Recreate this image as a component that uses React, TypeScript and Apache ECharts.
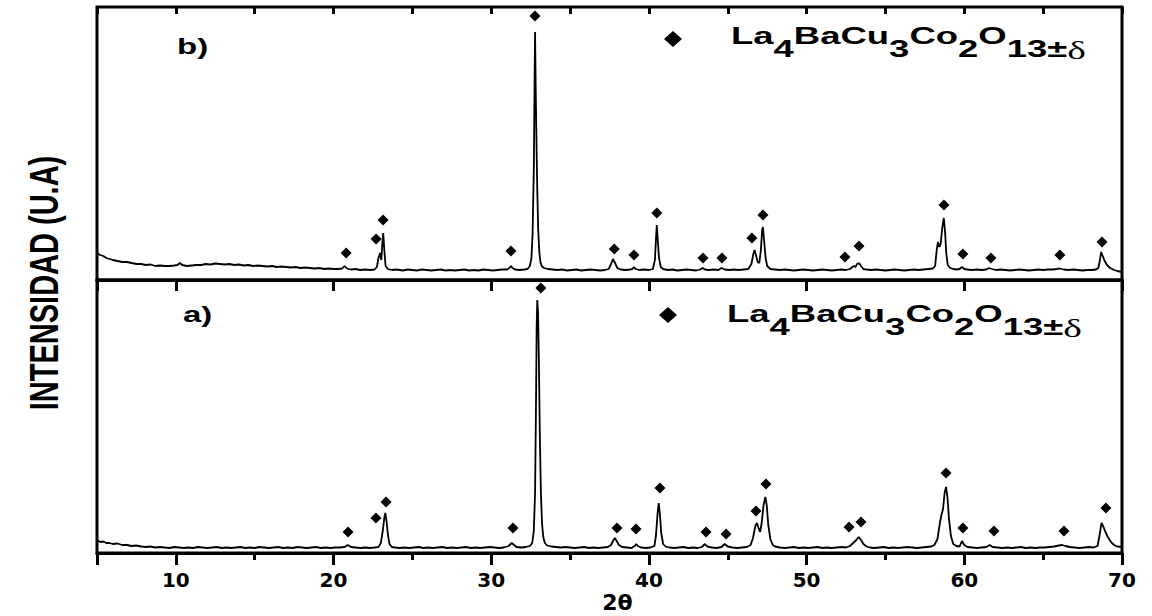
import React, { useEffect, useRef } from "react";
import * as echarts from "echarts";

// ---------- data ----------
const X_MIN = 5;
const X_MAX = 70;
const X_MAJOR_TICKS = [10, 20, 30, 40, 50, 60, 70];
const X_MINOR_STEP = 5;
const Y_MIN = 0;
const Y_MAX = 273;

const X_TITLE = "2θ";
const Y_TITLE = "INTENSIDAD (U.A)";
const PANEL_LABELS = ["b)", "a)"];
const PHASE_NAME = "La4BaCu3Co2O13±δ";

// pattern b) (upper panel): [2θ, intensity]
const patternB: [number, number][] = [
  [5.0, 27], [5.2, 25], [5.4, 24], [5.6, 22], [5.8, 21], [6.0, 20], [6.3, 19], [6.6, 18], [6.9, 18],
  [7.2, 17], [7.5, 16], [7.8, 16], [8.1, 15], [8.4, 15.5], [8.7, 14], [9.0, 14.5], [9.3, 14], [9.6, 14],
  [9.9, 14.5], [10.1, 15], [10.25, 17], [10.4, 15], [10.7, 14], [11.0, 14.5], [11.3, 15], [11.6, 15],
  [11.9, 16], [12.2, 15.5], [12.5, 16.5], [12.8, 16], [13.1, 15.5], [13.4, 16], [13.7, 15], [14.0, 15.5],
  [14.3, 14.5], [14.6, 15], [14.9, 14], [15.2, 14.5], [15.5, 14], [15.8, 13.5], [16.1, 14], [16.4, 13],
  [16.7, 13.5], [17.0, 13], [17.3, 12.5], [17.6, 13], [17.9, 12], [18.2, 12.5], [18.5, 12], [18.8, 11.5],
  [19.1, 12], [19.4, 11], [19.7, 11.5], [20.0, 11], [20.3, 11], [20.55, 11.5], [20.7, 14], [20.85, 11.5],
  [21.1, 10.5], [21.4, 11], [21.7, 10], [22.0, 10.5], [22.3, 10], [22.6, 10.5], [22.75, 13], [22.85, 22],
  [22.95, 27], [23.03, 20], [23.1, 38], [23.15, 47], [23.22, 30], [23.3, 14], [23.45, 11], [23.7, 10],
  [24.0, 10.5], [24.4, 9.5], [24.7, 10.5], [25.0, 10], [25.3, 9.5], [25.6, 10.5], [25.9, 10], [26.2, 9.5],
  [26.5, 10], [26.8, 10.5], [27.1, 9.5], [27.4, 10], [27.7, 9.5], [28.0, 10], [28.3, 10.5], [28.6, 9.5],
  [28.9, 10], [29.2, 9.5], [29.5, 10.5], [29.8, 10], [30.1, 9.5], [30.4, 10], [30.7, 10.5], [31.0, 10.5],
  [31.15, 12], [31.25, 14], [31.35, 12], [31.5, 10.5], [31.8, 10], [32.1, 10.5], [32.3, 11], [32.45, 14],
  [32.55, 22], [32.62, 45], [32.7, 110], [32.75, 200], [32.78, 248], [32.82, 192], [32.86, 147],
  [32.92, 90], [32.98, 50], [33.05, 28], [33.12, 18], [33.2, 14], [33.35, 12], [33.6, 11], [33.9, 10.5],
  [34.2, 10], [34.5, 10.5], [34.8, 9.5], [35.1, 10], [35.4, 10.5], [35.7, 9.5], [36.0, 10], [36.3, 10.5],
  [36.6, 10], [36.9, 9.5], [37.2, 10], [37.45, 11], [37.6, 16], [37.72, 21], [37.85, 17], [38.0, 12],
  [38.2, 10.5], [38.5, 10], [38.8, 10.5], [38.95, 11], [39.05, 13], [39.15, 11], [39.4, 10], [39.7, 10.5],
  [40.0, 10], [40.25, 11], [40.38, 20], [40.45, 42], [40.5, 55], [40.56, 40], [40.64, 22], [40.75, 13],
  [40.9, 11], [41.2, 10], [41.5, 10.5], [41.8, 9.5], [42.1, 10], [42.4, 10.5], [42.7, 10], [43.0, 9.5],
  [43.25, 10.5], [43.4, 12], [43.55, 10.5], [43.8, 10], [44.1, 10.5], [44.4, 10], [44.6, 12], [44.8, 10.5],
  [45.1, 10], [45.4, 10.5], [45.7, 10], [46.0, 10.5], [46.3, 11], [46.5, 16], [46.62, 26], [46.7, 30],
  [46.8, 24], [46.9, 18], [47.0, 17], [47.1, 30], [47.18, 50], [47.23, 53], [47.3, 40], [47.4, 22],
  [47.5, 14], [47.7, 11], [48.0, 10.5], [48.3, 10], [48.6, 10.5], [48.9, 10], [49.2, 9.5], [49.5, 10],
  [49.8, 10.5], [50.1, 10], [50.4, 9.5], [50.7, 10], [51.0, 10.5], [51.3, 10], [51.6, 9.5], [51.9, 10],
  [52.2, 10.5], [52.5, 10], [52.75, 11], [52.9, 13], [53.0, 14], [53.1, 13], [53.2, 16], [53.32, 17],
  [53.45, 14], [53.6, 11], [53.8, 10.5], [54.1, 10], [54.4, 10.5], [54.7, 10], [55.0, 9.5], [55.3, 10],
  [55.6, 10.5], [55.9, 10], [56.2, 9.5], [56.5, 10], [56.8, 10.5], [57.1, 10], [57.4, 10.5], [57.7, 11],
  [58.0, 11.5], [58.15, 14], [58.25, 30], [58.33, 38], [58.42, 33], [58.5, 36], [58.6, 52], [58.7, 62],
  [58.78, 48], [58.86, 26], [58.95, 15], [59.1, 12], [59.3, 11], [59.5, 10.5], [59.7, 11], [59.85, 13],
  [60.0, 11], [60.2, 10.5], [60.5, 10], [60.8, 10.5], [61.1, 10], [61.4, 10.5], [61.56, 12], [61.75, 11],
  [62.0, 10], [62.3, 10.5], [62.6, 10], [62.9, 9.5], [63.2, 10], [63.5, 10.5], [63.8, 10], [64.1, 9.5],
  [64.4, 10], [64.7, 10.5], [65.0, 10], [65.3, 10.5], [65.6, 10.5], [65.85, 11], [66.05, 11.5], [66.3, 10.5],
  [66.6, 10], [66.9, 10.5], [67.2, 10], [67.5, 9.5], [67.8, 10], [68.1, 10], [68.35, 10.5], [68.5, 12],
  [68.6, 20], [68.68, 28], [68.78, 24], [68.9, 19], [69.05, 15], [69.25, 12], [69.5, 10], [69.7, 9], [70.0, 8],
];

// reflection markers of pattern b)
const peaksB: [number, number][] = [
  [20.8, 27], [22.7, 41], [23.14, 60], [31.25, 29], [32.77, 264], [37.8, 31], [39.05, 25], [40.5, 67],
  [43.43, 22], [44.63, 22], [46.53, 42], [47.23, 65], [52.43, 23], [53.32, 34], [58.71, 75], [59.91, 26],
  [61.69, 22], [66.06, 25], [68.73, 38],
];

// pattern a) (lower panel): [2θ, intensity]
const patternA: [number, number][] = [
  [5.0, 13], [5.2, 11], [5.4, 11.5], [5.6, 10], [5.8, 10], [6.0, 9], [6.3, 9.5], [6.6, 8], [6.9, 8],
  [7.2, 7], [7.5, 7.5], [7.8, 6.5], [8.1, 6], [8.4, 6.5], [8.7, 5.5], [9.0, 6], [9.3, 5.5], [9.6, 5],
  [9.9, 6], [10.2, 5.5], [10.5, 5], [10.8, 5.5], [11.1, 5], [11.4, 6], [11.7, 5.5], [12.0, 5], [12.3, 5.5],
  [12.6, 6], [12.9, 5], [13.2, 5.5], [13.5, 5], [13.8, 5.5], [14.1, 6], [14.4, 5], [14.7, 5.5], [15.0, 5],
  [15.3, 6], [15.6, 5.5], [15.9, 5], [16.2, 5.5], [16.5, 6], [16.8, 5], [17.1, 5.5], [17.4, 5], [17.7, 6],
  [18.0, 5.5], [18.3, 5], [18.6, 5.5], [18.9, 6], [19.2, 5], [19.5, 5.5], [19.8, 5], [20.1, 5.5], [20.4, 5.5],
  [20.7, 6], [20.9, 8], [21.1, 6], [21.4, 5.5], [21.7, 5], [22.0, 5.5], [22.3, 5], [22.6, 5.5], [22.85, 6],
  [23.0, 10], [23.12, 22], [23.22, 35], [23.28, 40], [23.36, 32], [23.45, 18], [23.55, 9], [23.7, 6],
  [23.9, 5.5], [24.2, 5], [24.5, 5.5], [24.8, 5], [25.1, 5.5], [25.4, 6], [25.7, 5], [26.0, 5.5], [26.3, 5],
  [26.6, 5.5], [26.9, 6], [27.2, 5], [27.5, 5.5], [27.8, 5], [28.1, 5.5], [28.4, 6], [28.7, 5], [29.0, 5.5],
  [29.3, 5], [29.6, 5.5], [29.9, 6], [30.2, 5.5], [30.5, 5], [30.8, 5.5], [31.1, 7], [31.3, 10], [31.45, 8],
  [31.6, 6], [31.9, 5.5], [32.2, 6], [32.45, 7], [32.6, 10], [32.7, 22], [32.78, 60], [32.84, 150],
  [32.88, 225], [32.92, 253], [32.97, 240], [33.02, 195], [33.08, 120], [33.15, 60], [33.22, 30], [33.3, 16],
  [33.4, 10], [33.55, 7.5], [33.8, 6.5], [34.1, 6], [34.4, 5.5], [34.7, 6], [35.0, 5.5], [35.3, 5], [35.6, 5.5],
  [35.9, 6], [36.2, 5], [36.5, 5.5], [36.8, 5], [37.1, 5.5], [37.4, 6], [37.6, 8], [37.75, 13], [37.85, 15],
  [37.95, 12], [38.1, 8], [38.3, 6], [38.6, 5.5], [38.9, 5], [39.1, 7], [39.2, 9], [39.3, 7], [39.5, 5.5],
  [39.8, 5], [40.1, 5.5], [40.35, 7], [40.45, 18], [40.55, 40], [40.62, 50], [40.7, 38], [40.78, 20],
  [40.9, 9], [41.05, 6.5], [41.3, 5.5], [41.6, 5], [41.9, 5.5], [42.2, 6], [42.5, 5], [42.8, 5.5], [43.1, 5],
  [43.35, 6], [43.55, 9], [43.7, 6.5], [44.0, 5.5], [44.3, 5], [44.6, 6], [44.8, 9], [45.0, 6.5], [45.3, 5.5],
  [45.6, 5], [45.9, 5.5], [46.2, 6], [46.45, 8], [46.6, 15], [46.75, 27], [46.85, 30], [46.95, 25],
  [47.05, 21], [47.15, 30], [47.27, 48], [47.38, 56], [47.47, 48], [47.57, 28], [47.7, 14], [47.85, 8],
  [48.0, 6.5], [48.3, 5.5], [48.6, 5], [48.9, 5.5], [49.2, 6], [49.5, 5], [49.8, 5.5], [50.1, 5], [50.4, 5.5],
  [50.7, 6], [51.0, 5], [51.3, 5.5], [51.6, 5], [51.9, 5.5], [52.2, 6], [52.5, 5.5], [52.75, 7], [52.95, 10],
  [53.15, 13], [53.3, 16], [53.45, 13], [53.6, 9], [53.8, 6.5], [54.0, 5.5], [54.3, 5], [54.6, 5.5], [54.9, 6],
  [55.2, 5], [55.5, 5.5], [55.8, 5], [56.1, 5.5], [56.4, 6], [56.7, 5.5], [57.0, 5], [57.3, 5.5], [57.6, 6],
  [57.9, 6.5], [58.1, 8], [58.3, 14], [58.45, 30], [58.55, 38], [58.65, 44], [58.75, 60], [58.84, 66],
  [58.93, 56], [59.03, 34], [59.15, 17], [59.3, 9], [59.5, 7], [59.7, 6.5], [59.85, 12], [60.0, 8], [60.2, 6],
  [60.5, 5.5], [60.8, 5], [61.1, 5.5], [61.4, 6], [61.6, 8], [61.8, 6], [62.1, 5.5], [62.4, 5], [62.7, 5.5],
  [63.0, 5], [63.3, 5.5], [63.6, 6], [63.9, 5], [64.2, 5.5], [64.5, 5], [64.8, 5.5], [65.1, 5.5], [65.4, 6],
  [65.7, 6.5], [66.0, 7.5], [66.2, 8], [66.4, 7], [66.7, 6], [67.0, 5.5], [67.3, 5], [67.6, 5.5], [67.9, 6],
  [68.2, 5.5], [68.45, 7], [68.58, 18], [68.7, 30], [68.8, 27], [68.95, 21], [69.1, 16], [69.3, 11],
  [69.5, 8], [69.7, 6.5], [70.0, 6],
];

// reflection markers of pattern a)
const peaksA: [number, number][] = [
  [20.92, 21], [22.69, 35], [23.33, 51], [31.38, 25], [33.15, 265], [37.97, 25], [39.18, 24], [40.7, 65],
  [43.62, 21], [44.89, 19], [46.79, 42], [47.42, 69], [52.69, 26], [53.45, 31], [58.84, 80], [59.91, 25],
  [61.88, 22], [66.32, 22], [68.98, 45],
];

// ---------- chart ----------
const FORMULA_RICH =
  "{m|La}{s|4}{m|BaCu}{s|3}{m|Co}{s|2}{m|O}{s|13±}{d|δ}";

const richStyles = {
  m: { fontFamily: "Liberation Sans", fontWeight: "bold", fontSize: 24, lineHeight: 26, verticalAlign: "top", fill: "#000" },
  s: { fontFamily: "Liberation Sans", fontWeight: "bold", fontSize: 24, lineHeight: 24, padding: [13, 0, 0, 0], verticalAlign: "top", fill: "#000" },
  d: { fontFamily: "Liberation Serif", fontWeight: "normal", fontSize: 26, lineHeight: 24, padding: [13, 0, 0, 0], verticalAlign: "top", fill: "#000" },
};

const FRAME_W = 3;
const TICK_W = 3;

function buildOption() {
  const black = "#000";
  const baseAxis = {
    type: "value" as const,
    min: X_MIN,
    max: X_MAX,
    splitLine: { show: false },
  };
  const tickStyle = { color: black, width: TICK_W };

  return {
    animation: false,
    backgroundColor: "#fff",
    grid: [
      { left: 97, top: 7, width: 1025, height: 273, show: true, borderColor: black, borderWidth: FRAME_W, backgroundColor: "transparent" },
      { left: 97, top: 280, width: 1025, height: 273, show: true, borderColor: black, borderWidth: FRAME_W, backgroundColor: "transparent" },
    ],
    xAxis: [
      // upper panel: major ticks (inward)
      {
        ...baseAxis, gridIndex: 0, position: "top",
        axisLine: { show: true, lineStyle: { color: black, width: FRAME_W } },
        axisTick: { show: true, inside: true, length: 11, lineStyle: tickStyle },
        axisLabel: { show: false },
      },
      // lower panel: major ticks (outward) + labels + title
      {
        ...baseAxis, gridIndex: 1, position: "bottom",
        axisLine: { show: true, lineStyle: { color: black, width: FRAME_W } },
        axisTick: { show: true, inside: false, length: 12, lineStyle: tickStyle },
        axisLabel: {
          show: true, customValues: X_MAJOR_TICKS, margin: 17, color: black,
          fontFamily: "DejaVu Sans", fontWeight: "bold", fontSize: 20,
        },
        name: X_TITLE,
        nameLocation: "middle",
        nameGap: 38,
        nameTextStyle: { color: black, fontFamily: "DejaVu Sans", fontWeight: "bold", fontSize: 22, padding: [0, 0, 0, 16] },
      },
      // upper panel: minor ticks every 5 (min 5 is a multiple of the interval)
      {
        ...baseAxis, gridIndex: 0, position: "top", interval: X_MINOR_STEP,
        axisLine: { show: false },
        axisTick: { show: true, inside: true, length: 7, lineStyle: tickStyle },
        axisLabel: { show: false },
      },
      // lower panel: minor ticks every 5
      {
        ...baseAxis, gridIndex: 1, position: "bottom", interval: X_MINOR_STEP,
        axisLine: { show: false },
        axisTick: { show: true, inside: false, length: 7, lineStyle: tickStyle },
        axisLabel: { show: false },
      },
    ],
    yAxis: [
      { type: "value", gridIndex: 0, min: Y_MIN, max: Y_MAX, show: false, splitLine: { show: false } },
      { type: "value", gridIndex: 1, min: Y_MIN, max: Y_MAX, show: false, splitLine: { show: false } },
    ],
    series: [
      {
        name: "b)", type: "line", xAxisIndex: 0, yAxisIndex: 0, data: patternB,
        showSymbol: false, symbol: "none", silent: true,
        lineStyle: { color: black, width: 1.8 },
      },
      {
        name: PHASE_NAME, type: "scatter", xAxisIndex: 0, yAxisIndex: 0, data: peaksB,
        symbol: "diamond", symbolSize: [11, 11], itemStyle: { color: black, opacity: 1 }, silent: true,
      },
      {
        name: "a)", type: "line", xAxisIndex: 1, yAxisIndex: 1, data: patternA,
        showSymbol: false, symbol: "none", silent: true,
        lineStyle: { color: black, width: 1.8 },
      },
      {
        name: PHASE_NAME, type: "scatter", xAxisIndex: 1, yAxisIndex: 1, data: peaksA,
        symbol: "diamond", symbolSize: [11, 11], itemStyle: { color: black, opacity: 1 }, silent: true,
      },
    ],
    graphic: [
      {
        type: "text", x: 44, y: 283, rotation: Math.PI / 2, scaleY: 1.4,
        style: { text: Y_TITLE, font: 'bold 29px "Liberation Sans"', fill: black, align: "center", verticalAlign: "middle" },
      },
      {
        type: "text", x: 177, y: 36, scaleX: 1.5,
        style: { text: PANEL_LABELS[0], font: 'bold 22px "Liberation Sans"', fill: black, align: "left", verticalAlign: "top" },
      },
      {
        type: "text", x: 183, y: 304, scaleX: 1.5,
        style: { text: PANEL_LABELS[1], font: 'bold 22px "Liberation Sans"', fill: black, align: "left", verticalAlign: "top" },
      },
      {
        type: "polygon",
        shape: { points: [[664, 39], [673, 31], [682, 39], [673, 47]] },
        style: { fill: black },
      },
      {
        type: "polygon",
        shape: { points: [[659, 315], [668, 307], [677, 315], [668, 323]] },
        style: { fill: black },
      },
      {
        type: "text", x: 731, y: 24, scaleX: 1.52,
        style: { text: FORMULA_RICH, rich: richStyles, fill: black, align: "left", verticalAlign: "top" },
      },
      {
        type: "text", x: 727, y: 302, scaleX: 1.52,
        style: { text: FORMULA_RICH, rich: richStyles, fill: black, align: "left", verticalAlign: "top" },
      },
    ],
  };
}

export default function App() {
  const ref = useRef<HTMLDivElement>(null);
  useEffect(() => {
    if (!ref.current) return;
    const chart = echarts.init(ref.current, undefined, { renderer: "svg" });
    chart.setOption(buildOption() as any);
    return () => chart.dispose();
  }, []);
  return (
    <div
      ref={ref}
      style={{ position: "absolute", left: 0, top: 0, width: 1152, height: 616, background: "#fff" }}
    />
  );
}
